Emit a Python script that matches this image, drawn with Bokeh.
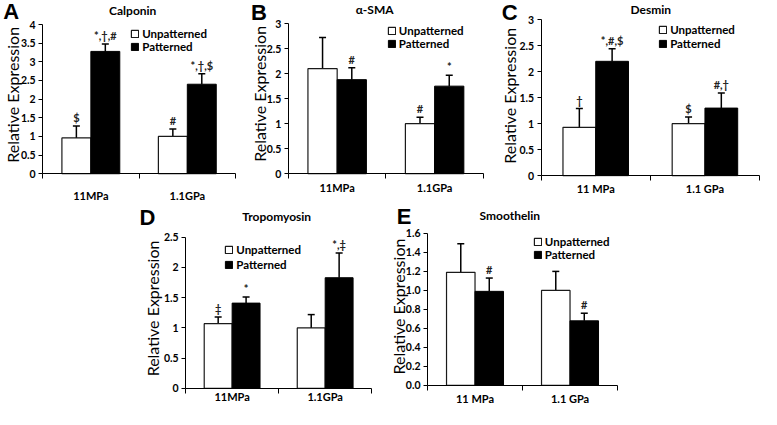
from bokeh.plotting import figure
from bokeh.models import (Range1d, FixedTicker, Label, Legend, LegendItem, Whisker,
                          TeeHead, ColumnDataSource, LinearAxis)
from bokeh.core.properties import value
from bokeh.embed import file_html
from bokeh.resources import INLINE
import math

# ---------------- data ----------------
series_names = ["Unpatterned", "Patterned"]

cats_A = ["11MPa", "1.1GPa"]
unp_A = [0.96, 1.00]
unp_err_A = [0.32, 0.20]
pat_A = [3.28, 2.40]
pat_err_A = [0.20, 0.28]
unp_sig_A = ["$", "#"]
pat_sig_A = ["*,†,#", "*,†,$"]
yticks_A = [0, 0.5, 1, 1.5, 2, 2.5, 3, 3.5, 4]
ylabels_A = ["0", "0.5", "1", "1.5", "2", "2.5", "3", "3.5", "4"]

cats_B = ["11MPa", "1.1GPa"]
unp_B = [2.10, 1.00]
unp_err_B = [0.62, 0.13]
pat_B = [1.88, 1.75]
pat_err_B = [0.24, 0.22]
unp_sig_B = ["", "#"]
pat_sig_B = ["#", "*"]
yticks_B = [0, 0.5, 1, 1.5, 2, 2.5, 3]
ylabels_B = ["0", "0.5", "1", "1.5", "2", "2.5", "3"]

cats_C = ["11 MPa", "1.1 GPa"]
unp_C = [0.93, 1.00]
unp_err_C = [0.36, 0.13]
pat_C = [2.20, 1.30]
pat_err_C = [0.24, 0.29]
unp_sig_C = ["†", "$"]
pat_sig_C = ["*,#,$", "#,†"]
yticks_C = [0, 0.5, 1, 1.5, 2, 2.5, 3]
ylabels_C = ["0", "0.5", "1", "1.5", "2", "2.5", "3"]

cats_D = ["11MPa", "1.1GPa"]
unp_D = [1.07, 1.00]
unp_err_D = [0.11, 0.22]
pat_D = [1.41, 1.83]
pat_err_D = [0.10, 0.41]
unp_sig_D = ["‡", ""]
pat_sig_D = ["*", "*,‡"]
yticks_D = [0, 0.5, 1, 1.5, 2, 2.5]
ylabels_D = ["0", "0.5", "1", "1.5", "2", "2.5"]

cats_E = ["11 MPa", "1.1 GPa"]
unp_E = [1.19, 1.00]
unp_err_E = [0.30, 0.20]
pat_E = [0.99, 0.68]
pat_err_E = [0.14, 0.08]
unp_sig_E = ["", ""]
pat_sig_E = ["#", "#"]
yticks_E = [0, 0.2, 0.4, 0.6, 0.8, 1.0, 1.2, 1.4, 1.6]
ylabels_E = ["0.0", "0.2", "0.4", "0.6", "0.8", "1.0", "1.2", "1.4", "1.6"]

# ---------------- canvas ----------------
W, H = 761, 409
SX = W / 777
SY = H / 425
FONT = "Lato"

p = figure(width=W, height=H, x_range=Range1d(0, W), y_range=Range1d(0, H),
           toolbar_location=None, output_backend="svg", min_border=0,
           x_axis_location=None, y_axis_location=None,
           outline_line_color=None, background_fill_color="white",
           border_fill_color="white")
p.xgrid.visible = False
p.ygrid.visible = False

xranges = {}
yranges = {}


def sxy(rx, ry):
    """reference pixel position -> screen units (from bottom-left)"""
    return rx * SX, H - ry * SY


def panel(name, frame, cats, unp, unp_err, pat, pat_err, unp_sig, pat_sig,
          yticks, ylabels, title, title_xy, letter, letter_xy, ylab_xy,
          legend_xy, xlab_y):
    fl, fr, ft, fb = frame
    L, R = fl * SX, fr * SX
    T, B = ft * SY, fb * SY
    n = len(cats)
    dx = n / (R - L)
    xn, yn = "x" + name, "y" + name
    xranges[xn] = Range1d(-L * dx, (W - L) * dx)
    ymin, ymax = yticks[0], yticks[-1]
    dy = (ymax - ymin) / (B - T)
    yranges[yn] = Range1d(ymin - (H - B) * dy, ymin + B * dy)
    rk = dict(x_range_name=xn, y_range_name=yn)

    centers = [i + 0.5 for i in range(n)]
    xu = [c - 0.15 for c in centers]
    xp = [c + 0.15 for c in centers]

    r_unp = p.vbar(x=xu, top=unp, bottom=0, width=0.3, fill_color="white",
                   line_color="#1a1a1a", line_width=1.2, **rk)
    r_pat = p.vbar(x=xp, top=pat, bottom=0, width=0.3, fill_color="black",
                   line_color="black", line_width=1, **rk)

    for xs, vals, errs, sig in ((xu, unp, unp_err, unp_sig), (xp, pat, pat_err, pat_sig)):
        up = [v + e for v, e in zip(vals, errs)]
        src = ColumnDataSource(dict(x=xs, lower=vals, upper=up, sig=sig))
        w = Whisker(source=src, base="x", lower="lower", upper="upper",
                    dimension="height", line_color="black", line_width=1.5,
                    upper_head=TeeHead(size=7, line_color="black", line_width=1.5),
                    lower_head=None, **rk)
        p.add_layout(w)
        p.text(x="x", y="upper", text="sig", source=src, text_align="center",
               text_baseline="bottom", y_offset=-2, text_font=value(FONT),
               text_font_style="bold", text_font_size="11px",
               text_color="#222222", **rk)

    # x axis
    xa = LinearAxis(fixed_location=ymin, bounds=(0, n), **rk)
    xa.ticker = FixedTicker(ticks=centers, minor_ticks=list(range(n + 1)))
    xa.major_label_overrides = {c: cats[i] for i, c in enumerate(centers)}
    xa.major_tick_out = 0
    xa.major_tick_in = 0
    xa.minor_tick_out = 5
    xa.minor_tick_in = 0
    xa.minor_tick_line_color = "black"
    xa.axis_line_color = "black"
    xa.major_label_text_font = FONT
    xa.major_label_text_font_style = "bold"
    xa.major_label_text_font_size = "11px"
    xa.major_label_text_color = "black"
    xa.major_label_standoff = round((xlab_y - fb) * SY - 12)
    p.add_layout(xa, "below")

    # y axis
    ya = LinearAxis(fixed_location=0, bounds=(ymin, ymax), **rk)
    ya.ticker = FixedTicker(ticks=yticks)
    ya.major_label_overrides = {t: l for t, l in zip(yticks, ylabels)}
    ya.major_tick_out = 4
    ya.major_tick_in = 0
    ya.minor_tick_line_color = None
    ya.axis_line_color = "black"
    ya.major_tick_line_color = "black"
    ya.major_label_text_font = FONT
    ya.major_label_text_font_style = "bold"
    ya.major_label_text_font_size = "10.5px"
    ya.major_label_text_color = "black"
    ya.major_label_standoff = 3
    p.add_layout(ya, "left")

    # texts
    tx, ty = sxy(*title_xy)
    p.add_layout(Label(x=tx, y=ty, x_units="screen", y_units="screen", text=title,
                       text_align="center", text_baseline="middle",
                       text_font=FONT, text_font_style="bold",
                       text_font_size="12px", text_color="black"))
    lx, ly = sxy(*letter_xy)
    p.add_layout(Label(x=lx, y=ly, x_units="screen", y_units="screen", text=letter,
                       text_align="center", text_baseline="middle",
                       text_font="Liberation Sans", text_font_style="bold",
                       text_font_size="22px", text_color="black"))
    ax, ay = sxy(*ylab_xy)
    p.add_layout(Label(x=ax, y=ay, x_units="screen", y_units="screen",
                       text="Relative Expression", angle=math.pi / 2,
                       text_align="center", text_baseline="middle",
                       text_font=FONT, text_font_size="16px", text_color="black"))

    # legend
    sq_left, r1, r2 = legend_xy
    rowH = 14
    spacing = max(0, round((r2 - r1) * SY - rowH))
    top_page = r1 * SY - rowH / 2
    bottom_page = top_page + 2 * rowH + spacing
    leg = Legend(items=[LegendItem(label=series_names[0], renderers=[r_unp]),
                        LegendItem(label=series_names[1], renderers=[r_pat])],
                 location=(sq_left * SX, H - bottom_page), orientation="vertical",
                 padding=0, margin=0, spacing=spacing, glyph_width=9, glyph_height=9,
                 label_height=12, label_standoff=3, label_text_font=FONT,
                 label_text_font_style="bold", label_text_font_size="11.5px",
                 label_text_color="black", background_fill_alpha=0,
                 border_line_alpha=0)
    p.add_layout(leg)


panel("A", (43, 240, 25, 180), cats_A, unp_A, unp_err_A, pat_A, pat_err_A,
      unp_sig_A, pat_sig_A, yticks_A, ylabels_A, "Calponin", (135, 10), "A",
      (11, 11), (12, 98), (133, 33, 46), 203)
panel("B", (294, 493, 24, 180), cats_B, unp_B, unp_err_B, pat_B, pat_err_B,
      unp_sig_B, pat_sig_B, yticks_B, ylabels_B, "α-SMA", (382, 9), "B",
      (264, 12), (264, 97), (395, 30, 45), 195)
panel("C", (552, 775, 20, 182), cats_C, unp_C, unp_err_C, pat_C, pat_err_C,
      unp_sig_C, pat_sig_C, yticks_C, ylabels_C, "Desmin", (664, 9), "C",
      (520, 12), (520, 99), (672, 29, 45), 196)
panel("D", (189, 379, 246, 403), cats_D, unp_D, unp_err_D, pat_D, pat_err_D,
      unp_sig_D, pat_sig_D, yticks_D, ylabels_D, "Tropomyosin", (282, 224), "D",
      (150, 226), (155, 320), (229, 258, 275), 412)
panel("E", (436, 630, 242, 400), cats_E, unp_E, unp_err_E, pat_E, pat_err_E,
      unp_sig_E, pat_sig_E, yticks_E, ylabels_E, "Smoothelin", (520, 223), "E",
      (412, 224), (406, 318), (544, 249, 264), 415)

p.extra_x_ranges = xranges
p.extra_y_ranges = yranges

open("out.html", "w").write(file_html(p, INLINE))
